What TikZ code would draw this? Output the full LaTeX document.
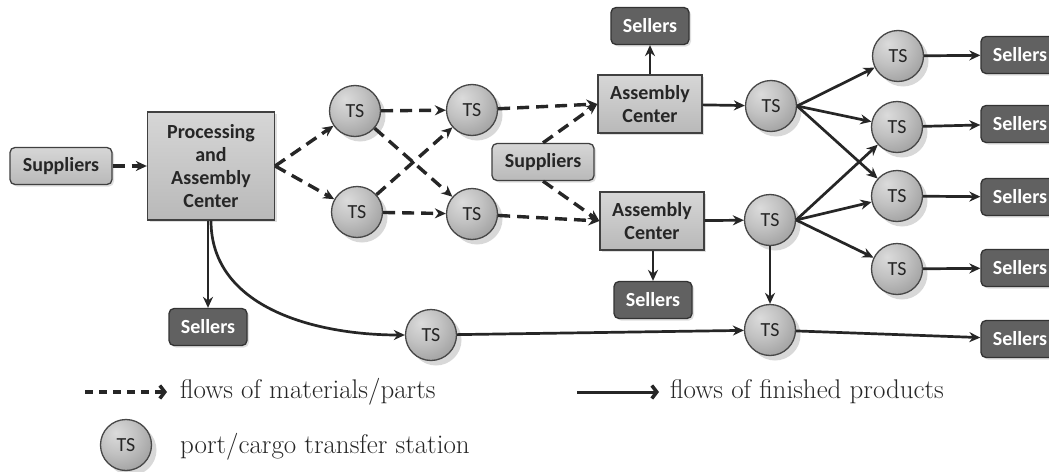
\documentclass[tikz,border=0pt]{standalone}
\usepackage{fontspec}
\newfontfamily\boxfont{Carlito}
\usetikzlibrary{arrows.meta,shadows}

% soft grey sphere for the transfer stations, lit from the upper left
\pgfdeclareradialshading{tsball}{\pgfpoint{-10bp}{12bp}}{%
  color(0bp)=(black!14); color(18bp)=(black!24); color(40bp)=(black!40);
  color(62bp)=(black!52); color(100bp)=(black!55)}

\begin{document}
\begin{tikzpicture}[x=1pt,y=-1pt,
  nodetext/.style={font=\boxfont\bfseries\fontsize{20}{23}\selectfont},
  lightbox/.style={nodetext, draw=black!75, line width=1.3pt,
    top color=gray!32, bottom color=gray!55, text=black!85, align=center,
    inner sep=2pt, drop shadow={shadow xshift=2pt,shadow yshift=-2pt,opacity=.25}},
  supbox/.style={lightbox, rounded corners=5pt, minimum width=102pt, minimum height=37pt},
  acbox/.style={lightbox, minimum width=104pt, minimum height=58pt},
  sellbox/.style={nodetext, draw=black!80, line width=1.3pt, fill=black!62,
    text=white, rounded corners=5pt, minimum width=78pt, minimum height=37pt,
    drop shadow={shadow xshift=2pt,shadow yshift=-2pt,opacity=.25}},
  ts/.style={circle, draw=black!72, line width=1.3pt, shading=tsball,
    minimum size=51pt, inner sep=0pt, text=black!85,
    font=\boxfont\fontsize{20}{23}\selectfont,
    drop shadow={shadow xshift=5pt,shadow yshift=-5pt,opacity=.3}},
  mat/.style={draw=black!85, line width=3.4pt, dash pattern=on 12pt off 7pt,
    -{Stealth[length=11pt,width=10pt]}},
  prod/.style={draw=black!85, line width=2.7pt, -{Stealth[length=11pt,width=10pt]}},
  legendtext/.style={anchor=west, font=\fontsize{27}{31}\selectfont, text=black!85, inner sep=0pt}
]
\path[use as bounding box, fill=white] (0,0) rectangle (1049,471);

% suppliers and production sites
\node[supbox] (supL) at (61,166) {Suppliers};
\node[lightbox, minimum width=127pt, minimum height=108pt] (pac) at (211,166)
  {Processing\\and\\Assembly\\Center};
\node[supbox] (supM) at (543,162) {Suppliers};
\node[acbox] (acT) at (650,104) {Assembly\\Center};
\node[acbox] (acB) at (652,221) {Assembly\\Center};

% transfer stations
\node[ts] (ts1) at (355,111) {TS};
\node[ts] (ts2) at (472,110) {TS};
\node[ts] (ts3) at (357,212) {TS};
\node[ts] (ts4) at (472,214) {TS};
\node[ts] (tsA) at (771,106) {TS};
\node[ts] (tsB) at (770,220) {TS};
\node[ts] (tsC) at (770,330) {TS};
\node[ts] (tsD) at (431,335) {TS};
\node[ts] (r1) at (898,56) {TS};
\node[ts] (r2) at (897,127) {TS};
\node[ts] (r3) at (897,196) {TS};
\node[ts] (r4) at (897,269) {TS};

% sellers
\node[sellbox] (selT) at (650,26) {Sellers};
\node[sellbox] (selB) at (653,300) {Sellers};
\node[sellbox] (selL) at (208,327) {Sellers};
\node[sellbox] (s1) at (1020,55) {Sellers};
\node[sellbox] (s2) at (1020,124) {Sellers};
\node[sellbox] (s3) at (1020,197) {Sellers};
\node[sellbox] (s4) at (1020,268) {Sellers};
\node[sellbox] (s5) at (1020,339) {Sellers};

% flows of materials and parts
\draw[mat] (supL) -- (pac);
\draw[mat] (pac.east) -- (ts1);
\draw[mat] (pac.east) -- (ts3);
\draw[mat] (ts1) -- (ts2);
\draw[mat] (ts1) -- (ts4);
\draw[mat] (ts3) -- (ts2);
\draw[mat] (ts3) -- (ts4);
\draw[mat] (ts2) -- (acT.west);
\draw[mat] (ts4) -- (acB.west);
\draw[mat] (supM.north) -- (acT.west);
\draw[mat] (supM.south) -- (acB.west);

% flows of finished products
\draw[prod] (acT) -- (selT);
\draw[prod] (acT) -- (tsA);
\draw[prod] (acB.south -| selB.north) -- (selB);
\draw[prod] (acB) -- (tsB);
\draw[prod] (tsA.east) -- (r1);
\draw[prod] (tsA.east) -- (r2);
\draw[prod] (tsA.east) -- (r3);
\draw[prod] (tsB.east) -- (r2);
\draw[prod] (tsB.east) -- (r3);
\draw[prod] (tsB.east) -- (r4);
\draw[prod] (tsB) -- (tsC);
\draw[prod] (r1) -- (s1);
\draw[prod] (r2) -- (s2);
\draw[prod] (r3) -- (s3);
\draw[prod] (r4) -- (s4);
\draw[prod] (pac.south -| selL.north) -- (selL);
\draw[prod] (pac.south) to[out=-90, in=180] (tsD.west);
\draw[prod] (tsD) -- (tsC);
\draw[prod] (tsC) -- (s5);

% legend
\coordinate (la) at (85,392);
\coordinate (lb) at (167,392);
\draw[draw=black!85, line width=4pt, dash pattern=on 8pt off 6pt,
  -{Straight Barb[length=5pt,width=13pt,line width=3.5pt]}] (la) -- (lb);
\node[legendtext] (lt1) at (180,392) {flows of materials/parts};
\coordinate (lc) at (577,392);
\coordinate (ld) at (659,392);
\draw[draw=black!85, line width=3pt,
  -{Straight Barb[length=5pt,width=13pt,line width=3.5pt]}] (lc) -- (ld);
\node[legendtext] (lt2) at (670,392) {flows of finished products};
\node[ts] (tsL) at (126,445) {TS};
\node[legendtext] (lt3) at (180,447) {port/cargo transfer station};
\end{tikzpicture}
\end{document}
